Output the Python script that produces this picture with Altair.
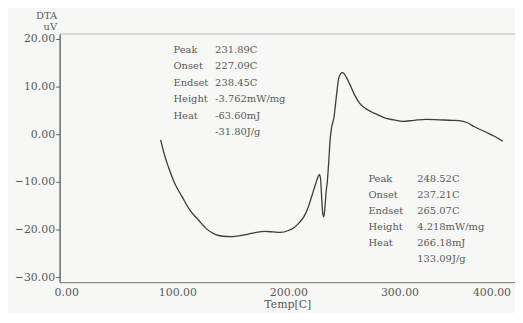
import altair as alt
import pandas as pd

# DTA curve (temperature in C, signal in uV)
temp = [85, 88, 92, 98, 104, 111, 119, 126, 134, 141, 148, 155, 163, 171, 179, 186,
        193, 200, 205, 210, 214, 218, 221, 224, 227, 228, 229, 230, 231, 231.9, 233,
        234, 235, 236.5, 237.5, 239, 241, 243, 245.5, 248.5, 250, 252.5, 255, 259,
        264, 270, 277, 283, 288, 295, 303, 313, 324, 336, 348, 355, 360, 368, 378,
        386, 393]
dta = [-1.2, -4, -6.9, -10.5, -13, -15.8, -18, -19.8, -21, -21.4, -21.5, -21.3, -21,
       -20.6, -20.4, -20.5, -20.6, -20.2, -19.6, -18.5, -17.3, -15.2, -13, -10.8, -8.8,
       -8.5, -9.5, -13.5, -16.8, -17.3, -15, -12, -10, -5, -1.3, 1.5, 3.5, 7.5, 11.9,
       12.9, 12.7, 11.8, 10.6, 8.5, 6.5, 5.3, 4.4, 3.8, 3.3, 3.0, 2.7, 2.9, 3.1, 3.0,
       2.9, 2.8, 2.5, 1.5, 0.4, -0.5, -1.5]

x_ticks = [0, 100, 200, 300, 400]
y_ticks = [-30, -20, -10, 0, 10, 20]

# annotation blocks
ann1_labels = ["Peak", "Onset", "Endset", "Height", "Heat", ""]
ann1_values = ["231.89C", "227.09C", "238.45C", "-3.762mW/mg", "-63.60mJ", "-31.80J/g"]
ann2_labels = ["Peak", "Onset", "Endset", "Height", "Heat", ""]
ann2_values = ["248.52C", "237.21C", "265.07C", "4.218mW/mg", "266.18mJ", "133.09J/g"]

X_DOM = [-6, 404]
Y_DOM = [-31, 21]
W, H = 459, 250
FONT = "DejaVu Serif"
TXT = "#5a5a5a"

curve = pd.DataFrame({"temp": temp, "dta": dta})

xs = alt.Scale(domain=X_DOM, nice=False, zero=False)
ys = alt.Scale(domain=Y_DOM, nice=False, zero=False)

line = alt.Chart(curve).mark_line(color="#3c3c3c", strokeWidth=1.3, interpolate="monotone").encode(
    x=alt.X("temp:Q", scale=xs, title="Temp[C]",
            axis=alt.Axis(values=x_ticks, format=".2f", grid=False, ticks=False,
                          domainColor="#8a8a8a", domainWidth=1.2, labelFont=FONT,
                          labelFontSize=11, labelColor=TXT, labelPadding=5, labelFlush=6,
                          titleFont=FONT, titleFontSize=11, titleColor=TXT,
                          titleFontWeight="normal", titlePadding=1)),
    y=alt.Y("dta:Q", scale=ys, title=["DTA", "uV"],
            axis=alt.Axis(values=y_ticks, format=".2f", grid=False, ticks=True, tickSize=4,
                          tickColor="#666", domainColor="#555", domainWidth=1.3,
                          labelFont=FONT, labelFontSize=11, labelColor=TXT, labelPadding=1,
                          titleFont=FONT, titleFontSize=10, titleColor=TXT,
                          titleFontWeight="normal", titleAngle=0, titleAlign="right",
                          titleBaseline="bottom", titleX=-3, titleY=-14, titleLineHeight=11)),
)

def block(labels, values, x_lab, x_val, y_top, step):
    n = len(labels)
    df = pd.DataFrame({
        "lab": labels, "val": values,
        "xl": [x_lab] * n, "xv": [x_val] * n,
        "y": [y_top - i * step for i in range(n)],
    })
    base = alt.Chart(df)
    t1 = base.mark_text(align="left", baseline="middle", font=FONT, fontSize=10, color=TXT).encode(
        x=alt.X("xl:Q", scale=xs), y=alt.Y("y:Q", scale=ys), text="lab:N")
    t2 = base.mark_text(align="left", baseline="middle", font=FONT, fontSize=10, color=TXT).encode(
        x=alt.X("xv:Q", scale=xs), y=alt.Y("y:Q", scale=ys), text="val:N")
    return t1 + t2

# block positions in data units
b1 = block(ann1_labels, ann1_values, 96.5, 134, 17.7, 3.45)
b2 = block(ann2_labels, ann2_values, 272, 316, -9.5, 3.35)

top = alt.Chart(pd.DataFrame({"a": [0]})).mark_rule(color="#b5b5b5", strokeWidth=1).encode(
    x=alt.value(0), x2=alt.value(W), y=alt.value(0))

chart = alt.layer(top, line, b1, b2).properties(
    width=W, height=H,
    autosize=alt.AutoSizeParams(type="none"),
    padding={"left": 52, "top": 25, "right": 0, "bottom": 30},
    background="#f7f7f5",
).configure_view(stroke=None)

chart.save("out.html", embed_options={"renderer": "svg", "actions": False})
